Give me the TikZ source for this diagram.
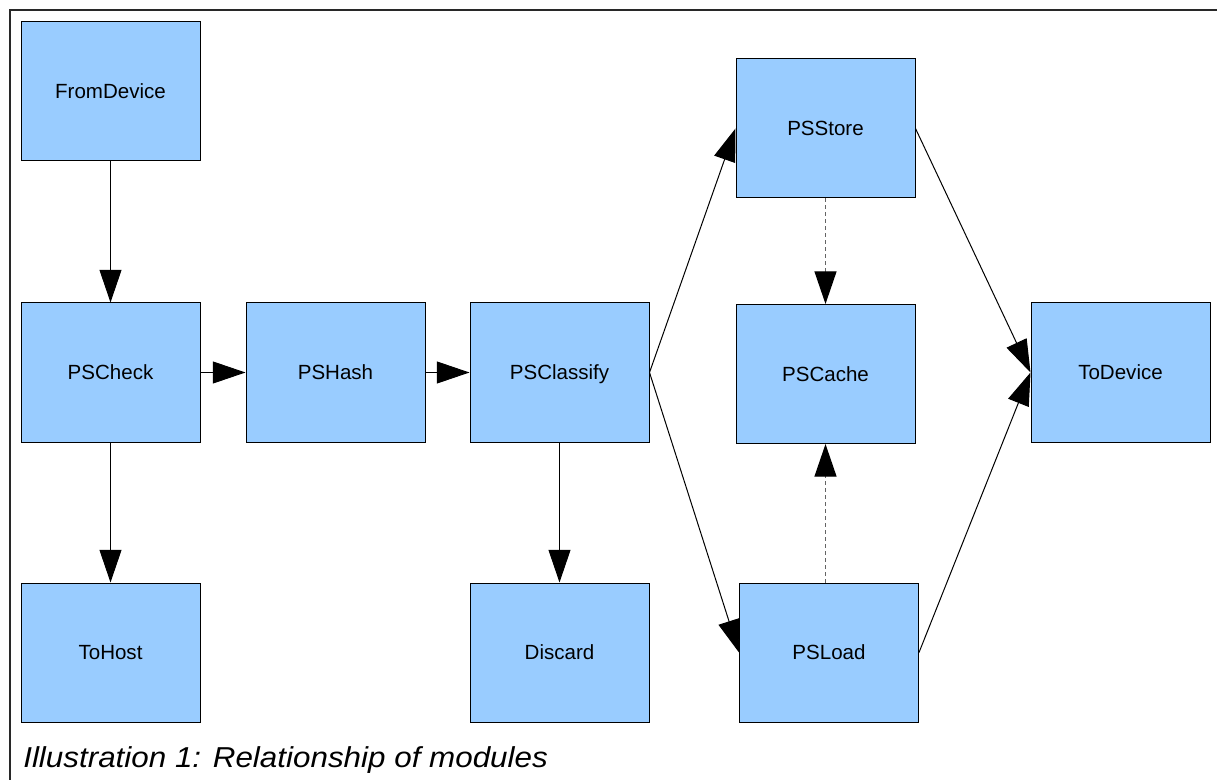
\documentclass[tikz,border=0pt]{standalone}
\usepackage{fontspec}
\setmainfont{Liberation Sans}
\usepackage{tikz}
\usetikzlibrary{arrows.meta}
\usetikzlibrary{positioning}
\definecolor{modblue}{RGB}{153,204,255}
\definecolor{framegray}{RGB}{40,40,40}
\definecolor{dashgray}{RGB}{100,100,100}
\tikzset{
  module/.style={draw=black, fill=modblue, line width=0.75pt,
    minimum width=134.25pt, minimum height=104.25pt, inner sep=0pt,
    text height=11.2pt, text depth=0pt,
    font=\fontsize{15.4pt}{18pt}\selectfont},
  flow/.style={line width=0.75pt, -{Triangle[length=24.5pt, width=16.5pt]}},
  cacheflow/.style={line width=1pt, draw=dashgray, dash pattern=on 3pt off 2.25pt,
    -{Triangle[length=24.5pt, width=16.5pt, black]}}
}

\begin{document}
\begin{tikzpicture}[x=0.75pt, y=-0.75pt]
      \useasboundingbox (0,0) rectangle (1217,780);
      \draw[line width=1pt, color=framegray] (10,780) -- (10,10) -- (1217,10);
      \node[module] (fromdev)  at ( 110.5, 91.5) {FromDevice};
      \node[module] (pscheck)  at ( 110.5,372.5) {PSCheck};
      \node[module] (tohost)   at ( 110.5,652.5) {ToHost};
      \node[module] (pshash)   at ( 335.5,372.5) {PSHash};
      \node[module] (psclass)  at ( 559.5,372.5) {PSClassify};
      \node[module] (discard)  at ( 559.5,652.5) {Discard};
      \node[module] (psstore)  at ( 825.5,128.5) {PSStore};
      \node[module] (pscache)  at ( 825.5,374.0) {PSCache};
      \node[module] (psload)   at ( 829.0,652.5) {PSLoad};
      \node[module] (todev)    at (1120.5,372.5) {ToDevice};
      \draw[flow] (fromdev) -- (pscheck);
      \draw[flow] (pscheck) -- (pshash);
      \draw[flow] (pshash) -- (psclass);
      \draw[flow] (pscheck) -- (tohost);
      \draw[flow] (psclass) -- (discard);
      \draw[flow] (psclass.east) -- (psstore.west);
      \draw[flow] (psclass.east) -- (psload.west);
      \draw[flow] (psstore.east) -- (todev.west);
      \draw[flow] (psload.east) -- (todev.west);
      \draw[cacheflow] (psstore) -- (pscache);
      \draw[cacheflow] (psload.north -| pscache.south) -- (pscache.south);
      \node[anchor=base west, inner sep=0pt, xscale=1.09, transform shape,
            font=\fontsize{21.6pt}{26pt}\selectfont\itshape] (caption) at (23,767)
            {Illustration 1: Relationship of modules};
    \end{tikzpicture}
\end{document}
